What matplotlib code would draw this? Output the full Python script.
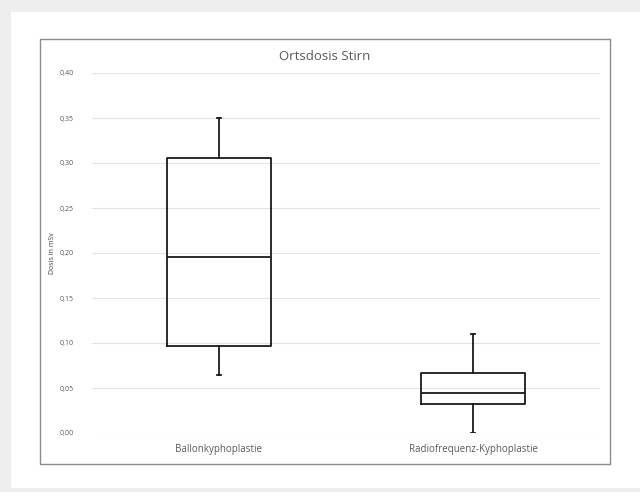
import matplotlib
matplotlib.use("Agg")
import matplotlib.pyplot as plt
from matplotlib.patches import Rectangle

categories = ["Ballonkyphoplastie", "Radiofrequenz-Kyphoplastie"]
whislo = [0.065, 0.0]
q1 = [0.097, 0.032]
med = [0.196, 0.045]
q3 = [0.306, 0.067]
whishi = [0.350, 0.110]
yticks = [0.0, 0.05, 0.10, 0.15, 0.20, 0.25, 0.30, 0.35, 0.40]

plt.rcParams['font.family'] = ['Open Sans', 'DejaVu Sans']
W, H = 640, 492
fig = plt.figure(figsize=(6.4, 4.92), dpi=100)
fig.patch.set_facecolor('#eeeeee')
# white panel
fig.patches.append(Rectangle((11/W, 1-488/H), 1-11/W, (488-12)/H, transform=fig.transFigure,
                             facecolor='white', edgecolor='none', zorder=-3))
# chart border
fig.patches.append(Rectangle((40/W, 1-464/H), (610-40)/W, (464-39)/H, transform=fig.transFigure,
                             facecolor='white', edgecolor='#8c8c8c', lw=1.0, zorder=-2))

ax = fig.add_axes([92/W, 1-433/H, (600-92)/W, (433-73)/H])
ax.set_facecolor('none')
stats = []
for i in range(len(categories)):
    stats.append(dict(whislo=whislo[i], q1=q1[i], med=med[i], q3=q3[i], whishi=whishi[i],
                      fliers=[], label=categories[i]))
pos = [0.5, 1.5]
ax.bxp(stats, positions=pos, widths=0.41, capwidths=0.016, showfliers=False,
       boxprops=dict(color='#1a1a1a', lw=1.3),
       medianprops=dict(color='#1a1a1a', lw=1.3),
       whiskerprops=dict(color='#1a1a1a', lw=1.3),
       capprops=dict(color='#1a1a1a', lw=1.3))
ax.set_xlim(0, 2)
ax.set_ylim(0, 0.4)
ax.set_yticks(yticks)
ax.set_yticklabels([f"{v:.2f}".replace('.', ',') for v in yticks], fontsize=5, color='#595959')
ax.set_xticks(pos)
ax.set_xticklabels(categories, fontsize=7, color='#595959')
ax.tick_params(axis='both', length=0)
ax.tick_params(axis='y', pad=13)
ax.tick_params(axis='x', pad=8)
ax.grid(axis='y', color='#e3e3e3', lw=0.8)
ax.set_axisbelow(True)
for s in ax.spines.values():
    s.set_visible(False)
ax.set_ylabel("Dosis in mSv", fontsize=5, color='#404040', labelpad=3)
fig.text(325/W, 1-57/H, "Ortsdosis Stirn", ha='center', va='center', fontsize=9.5, color='#595959')

fig.savefig("out.png", dpi=100, facecolor=fig.get_facecolor())
